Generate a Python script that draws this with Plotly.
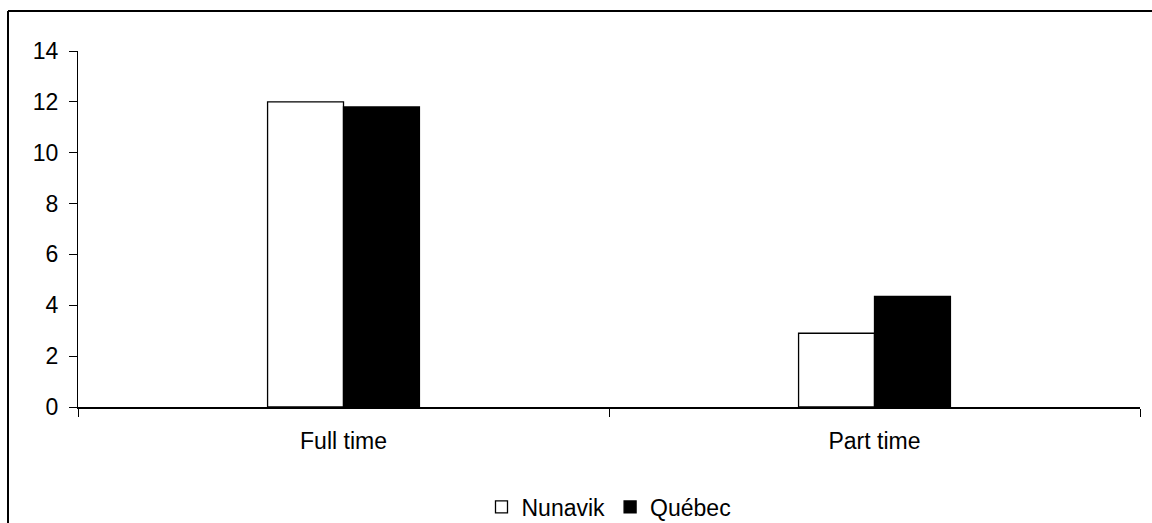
import plotly.graph_objects as go

categories = ["Full time", "Part time"]
nunavik = [12.0, 2.9]
quebec = [11.8, 4.35]
y_ticks = [0, 2, 4, 6, 8, 10, 12, 14]

W, H = 1152, 523
L, R, T, B = 78, 12, 51, 116
pw = W - L - R
ph = H - T - B

fig = go.Figure()
fig.add_trace(go.Bar(
    x=categories, y=nunavik, name="Nunavik",
    marker=dict(color="white", line=dict(color="black", width=1.3)),
))
fig.add_trace(go.Bar(
    x=categories, y=quebec, name="Québec",
    marker=dict(color="black", line=dict(color="black", width=1.3)),
))

# figure border (top and left visible)
bx = (8 - L) / pw
by = (H - B - 11) / ph
fig.add_shape(type="line", xref="paper", yref="paper", x0=bx, x1=1.2, y0=by, y1=by,
              line=dict(color="black", width=2))
fig.add_shape(type="line", xref="paper", yref="paper", x0=bx, x1=bx, y0=by, y1=-0.6,
              line=dict(color="black", width=2))

fig.update_layout(
    width=W, height=H,
    margin=dict(l=L, r=R, t=T, b=B, autoexpand=False),
    paper_bgcolor="white", plot_bgcolor="white",
    barmode="group", bargap=0.714, bargroupgap=0,
    font=dict(family="Liberation Sans, Arial, sans-serif", size=23, color="black"),
    showlegend=True,
    legend=dict(orientation="h", x=0.5, xanchor="center", y=(H - B - 507) / ph, yanchor="middle",
                font=dict(size=23), itemwidth=30, traceorder="normal"),
    xaxis=dict(
        showline=True, linecolor="black", linewidth=1.5,
        ticks="outside", tickson="boundaries", ticklen=8, tickcolor="black", tickwidth=1.3,
        showgrid=False, ticklabelstandoff=13, zeroline=False,
    ),
    yaxis=dict(
        range=[0, 14], tickvals=y_ticks, showline=True, linecolor="black", linewidth=1.3,
        ticks="outside", ticklen=8, tickcolor="black", tickwidth=1.3,
        showgrid=False, zeroline=False, ticklabelstandoff=6,
    ),
)

fig.write_html("out.html")
